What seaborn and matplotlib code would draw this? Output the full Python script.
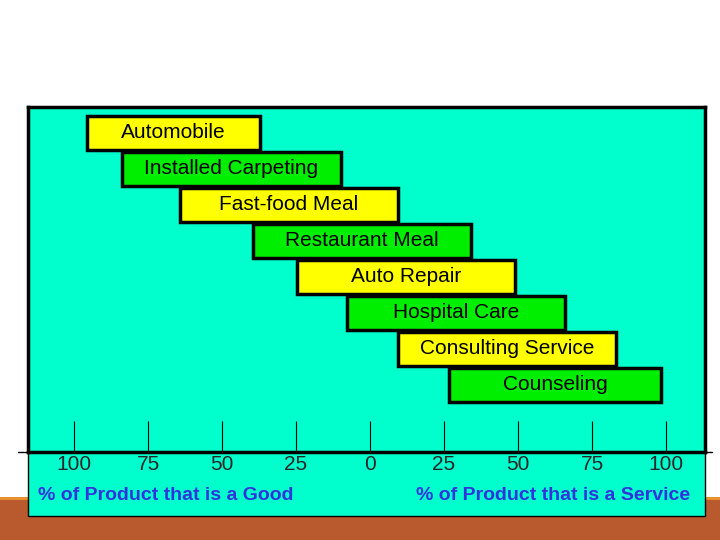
import matplotlib
matplotlib.use("Agg")
import matplotlib.pyplot as plt
import seaborn as sns
from matplotlib.patches import Rectangle
from matplotlib.lines import Line2D

# Bars: left/right in axis units (-100 = 100% good, +100 = 100% service)
products = ["Automobile", "Installed Carpeting", "Fast-food Meal", "Restaurant Meal",
            "Auto Repair", "Hospital Care", "Consulting Service", "Counseling"]
bar_left = [-95.6, -83.8, -64.2, -39.5, -24.7, -7.8, 9.5, 26.7]
bar_right = [-37.2, -9.8, 9.5, 34.1, 49.0, 65.9, 83.1, 98.3]
tick_pos = [-100, -75, -50, -25, 0, 25, 50, 75, 100]
tick_labels = ["100", "75", "50", "25", "0", "25", "50", "75", "100"]

TEAL = "#00FFCC"
YELLOW = "#FFFF00"
GREEN = "#00EE00"
AXIS_Y = 452

sns.set_theme(style="white")
plt.rcParams["font.family"] = ["Liberation Sans", "DejaVu Sans"]

W, H = 720, 540
fig = plt.figure(figsize=(7.2, 5.4), dpi=100)
fig.patch.set_facecolor("white")

# orange footer strip
fig.patches.append(Rectangle((0, 0), 1, 40 / H, transform=fig.transFigure,
                             facecolor="#B85A2E", edgecolor="none", zorder=0))
fig.patches.append(Rectangle((0, 40 / H), 1, 3 / H, transform=fig.transFigure,
                             facecolor="#E8902E", edgecolor="none", zorder=0))
# teal label area under the axis
fig.patches.append(Rectangle((28 / W, (540 - 516) / H), 677 / W, (516 - AXIS_Y) / H,
                             transform=fig.transFigure, facecolor=TEAL,
                             edgecolor="black", linewidth=1, zorder=1))

ax = fig.add_axes([28 / W, (540 - AXIS_Y) / H, 677 / W, (AXIS_Y - 107) / H])
ax.set_facecolor(TEAL)
ax.set_zorder(2)

rows = list(range(len(products)))
colors = [YELLOW if i % 2 == 0 else GREEN for i in rows]
widths = [r - l for l, r in zip(bar_left, bar_right)]
ax.barh(rows, widths, left=bar_left, height=0.95, color=colors,
        edgecolor="black", linewidth=2.5)
for i, name in enumerate(products):
    ax.text(bar_left[i] + widths[i] / 2, i, name, ha="center", va="center",
            fontsize=15, color="black")

x0 = (28 - 370) / 74 * 25
x1 = (705 - 370) / 74 * 25
ax.set_xlim(x0, x1)
ax.set_ylim((AXIS_Y - 133) / 36, (107 - 133) / 36)
ax.set_yticks([])
ax.set_xticks(tick_pos)
ax.set_xticklabels(tick_labels, fontsize=15)
ax.tick_params(axis="x", direction="in", length=22, width=0.8, color="black",
               pad=2, bottom=True)
for s in ax.spines.values():
    s.set_color("black")
    s.set_linewidth(2.5)

fig.lines.append(Line2D([18 / W, 712 / W], [(540 - AXIS_Y) / H] * 2,
                        transform=fig.transFigure, color="black", linewidth=1,
                        zorder=3))

fig.text(166 / W, (540 - 496) / H, "% of Product that is a Good", ha="center",
         va="center", fontsize=14, fontweight="bold", color="#3333DD", zorder=4)
fig.text(553 / W, (540 - 496) / H, "% of Product that is a Service", ha="center",
         va="center", fontsize=14, fontweight="bold", color="#3333DD", zorder=4)

fig.savefig("out.png", dpi=100)
